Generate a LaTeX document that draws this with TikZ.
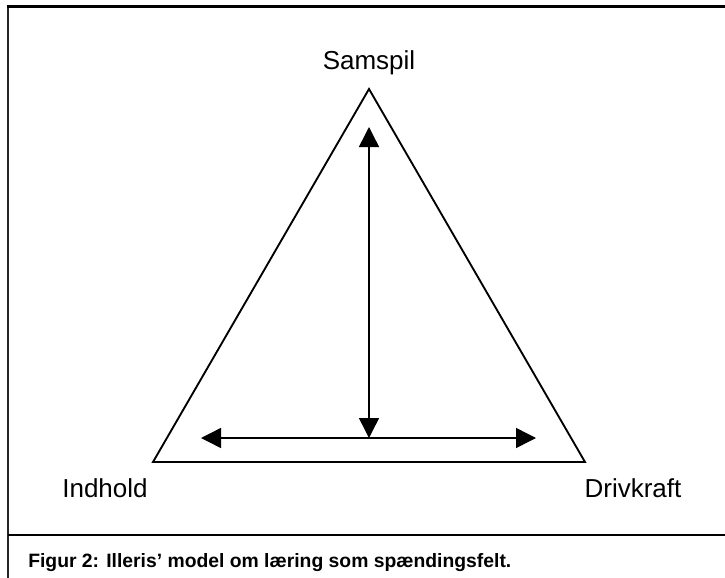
\documentclass[tikz,border=0pt]{standalone}
\usepackage{fontspec}
\setmainfont{Liberation Sans}
\usepackage{tikz}
\usetikzlibrary{arrows.meta,positioning}

\begin{document}
\begin{tikzpicture}[x=0.75pt,y=-0.75pt,
  every node/.style={font=\fontsize{19.5}{23}\selectfont,inner sep=0pt},
  pole/.style={anchor=base},
  twoway/.style={line width=1.1pt,{Triangle[length=15pt,width=15pt]}-{Triangle[length=15pt,width=15pt]}}]
\useasboundingbox (0,0) rectangle (725,578);
% frame and caption rule
\draw[line width=2pt,black!85] (8,578) -- (8,5.5);
\draw[line width=2.4pt] (7,6.5) -- (725,6.5);
\draw[line width=2pt] (8,535) -- (725,535);
% triangle
\coordinate (apex) at (369,89);
\coordinate (left) at (153,462);
\coordinate (right) at (585,462);
\draw[line width=1.4pt,line join=miter] (apex) -- (right) -- (left) -- cycle;
% poles
\node[pole] (samspil) at (369,69) {Samspil};
\node[pole] (indhold) at (105,497) {Indhold};
\node[pole] (drivkraft) at (633,497) {Drivkraft};
% arrows
\coordinate (vtop) at (369,127);
\coordinate (vbot) at (369,438);
\coordinate (hleft) at (201,438);
\coordinate (hright) at (536,438);
\draw[twoway] (vtop) -- (vbot);
\draw[twoway] (hleft) -- (hright);
% caption
\node[anchor=base west,font=\fontsize{14.5}{17}\selectfont\bfseries] (caption) at (28,567) {Figur 2: Illeris’ model om læring som spændingsfelt.};
\end{tikzpicture}
\end{document}
